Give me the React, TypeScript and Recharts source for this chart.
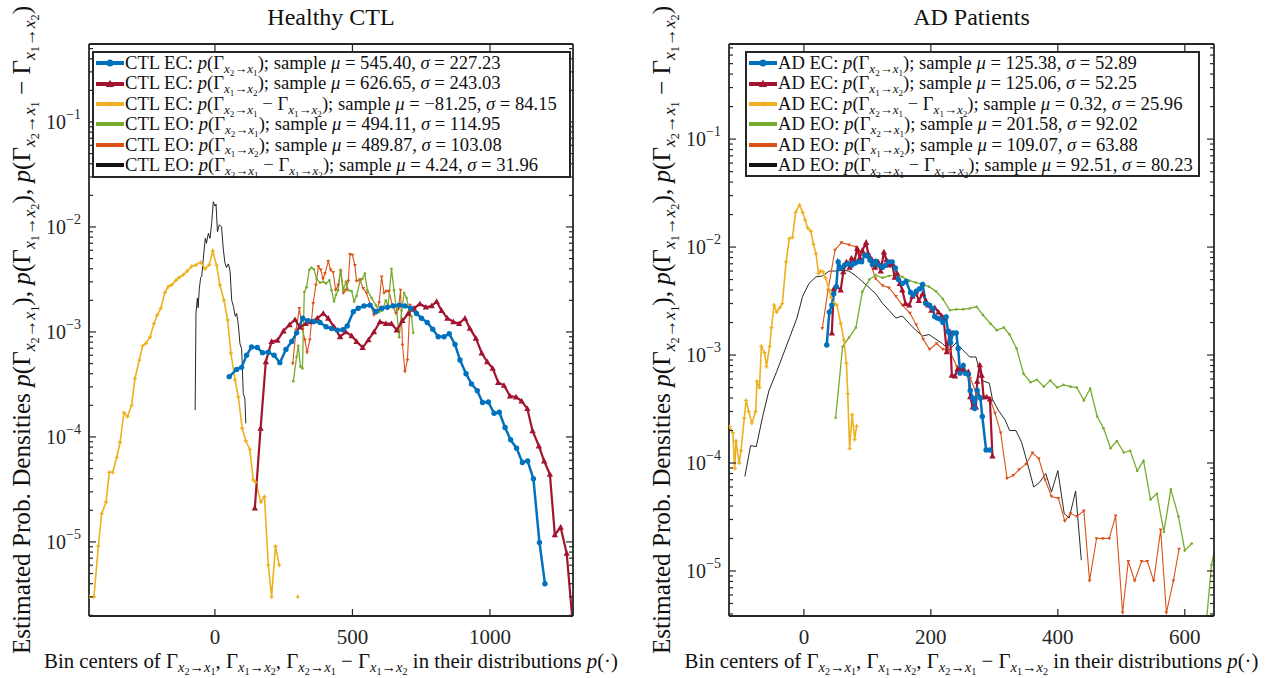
import React from 'react';
import { LineChart, Line, XAxis, YAxis } from 'recharts';

const SERIF = '"Liberation Serif", "DejaVu Serif", serif';
const AXIS = '#262626';

const BLUE = '#0072BD';
const RED = '#A2142F';
const YELLOW = '#EDB120';
const GREEN = '#77AC30';
const ORANGE = '#D95319';
const BLACK = '#111111';

// ---------- Healthy CTL ----------
const ctlEcFwdX = [52, 79, 97, 115, 133, 154, 173, 194, 215, 236, 258, 279, 297, 319, 339, 360, 382, 404, 424, 445, 465, 481, 503, 521, 542, 564, 585, 606, 627, 648, 670, 691, 712, 733, 751, 772, 792, 812, 833, 852, 873, 891, 913, 933, 954, 973, 994, 1015, 1034, 1055, 1075, 1097, 1118, 1137, 1158, 1180, 1200];
const ctlEcFwdY = [3.75e-4, 4.4e-4, 4.6e-4, 6.0e-4, 7.2e-4, 7.1e-4, 6.35e-4, 6.4e-4, 6.0e-4, 5.1e-4, 6.8e-4, 8.1e-4, 9.8e-4, 1.35e-3, 1.28e-3, 1.26e-3, 1.23e-3, 1.12e-3, 1.08e-3, 1.04e-3, 1.05e-3, 1.14e-3, 1.56e-3, 1.68e-3, 1.77e-3, 1.8e-3, 1.56e-3, 1.68e-3, 1.72e-3, 1.77e-3, 1.8e-3, 1.77e-3, 1.68e-3, 1.5e-3, 1.35e-3, 1.23e-3, 1.06e-3, 9.0e-4, 9.0e-4, 9.6e-4, 7.6e-4, 5.4e-4, 4.0e-4, 3.2e-4, 2.75e-4, 2.13e-4, 2.15e-4, 1.68e-4, 1.72e-4, 1.23e-4, 9.4e-5, 7.8e-5, 5.7e-5, 5.9e-5, 4.0e-5, 9.9e-6, 4.0e-6];

const ctlEcBwdX = [145, 166, 185, 206, 227, 249, 271, 291, 309, 330, 352, 372, 394, 412, 433, 455, 476, 497, 515, 537, 558, 578, 600, 622, 642, 661, 682, 703, 724, 745, 767, 788, 806, 824, 845, 867, 888, 909, 927, 949, 970, 990, 1010, 1030, 1051, 1073, 1095, 1115, 1136, 1155, 1178, 1197, 1218, 1236, 1257, 1279, 1300];
const ctlEcBwdY = [2.1e-5, 1.21e-4, 5.2e-4, 8.1e-4, 8.3e-4, 1.02e-3, 1.17e-3, 1.31e-3, 1.11e-3, 1.2e-3, 1.25e-3, 1.35e-3, 1.5e-3, 1.35e-3, 1.12e-3, 9.0e-4, 1.0e-3, 9.2e-4, 8.1e-4, 7.1e-4, 8.4e-4, 1.0e-3, 1.25e-3, 1.2e-3, 1.2e-3, 1.04e-3, 1.28e-3, 1.5e-3, 1.68e-3, 1.85e-3, 1.72e-3, 1.77e-3, 1.95e-3, 1.6e-3, 1.35e-3, 1.25e-3, 1.2e-3, 1.35e-3, 1.08e-3, 8.7e-4, 6.3e-4, 5.2e-4, 4.5e-4, 3.3e-4, 3.1e-4, 2.45e-4, 2.4e-4, 2.2e-4, 1.86e-4, 1.14e-4, 8.2e-5, 5.9e-5, 4.4e-5, 1.17e-5, 1.38e-5, 7.8e-6, 1.8e-6];

const ctlEcDiffX = [-457, -440, -424, -412, -396, -384, -372, -357, -345, -331, -318, -303, -291, -275, -263, -251, -236, -222, -210, -197, -182, -170, -158, -142, -130, -115, -101, -85, -69, -52, -36, -21, -8, 6, 18, 33, 46, 58, 73, 85, 99, 112, 127, 139, 148, 167, 180, 194, 206, 220, 234, 260, 301];
const ctlEcDiffY = [3.0e-6, 3.0e-6, 9.1e-6, 1.86e-5, 2.4e-5, 4.6e-5, 4.6e-5, 6.4e-5, 8.9e-5, 1.7e-4, 1.56e-4, 2.0e-4, 3.6e-4, 5.4e-4, 7.4e-4, 7.8e-4, 8.9e-4, 1.2e-3, 1.45e-3, 1.68e-3, 2.37e-3, 2.7e-3, 2.8e-3, 3.1e-3, 3.3e-3, 3.5e-3, 3.8e-3, 4.2e-3, 4.35e-3, 4.6e-3, 4.0e-3, 4.35e-3, 5.9e-3, 4.3e-3, 2.8e-3, 2.0e-3, 1.3e-3, 6.3e-4, 3.5e-4, 2.4e-4, 1.21e-4, 9.2e-5, 7.6e-5, 3.9e-5, 3.7e-5, 2.4e-5, 2.7e-5, 6.0e-6, 3.0e-6, 9.1e-6, 6.0e-6, null, 3.0e-6];

const ctlEoFwdX = [285, 297, 303, 311, 318, 325, 333, 343, 351, 360, 370, 382, 394, 404, 416, 424, 433, 440, 448, 457, 467, 476, 485, 497, 506, 515, 527, 536, 545, 554, 570, 585, 597, 609, 621, 630, 642, 651, 661, 670, 679, 688, 697, 706, 715, 721];
const ctlEoFwdY = [3.4e-4, 5.8e-4, 7.4e-4, 4.7e-4, 4.5e-4, 2.4e-3, 2.66e-3, 3.9e-3, 4.1e-3, 3.95e-3, 3.2e-3, 2.95e-3, 3.0e-3, 2.9e-3, 3.1e-3, 2.5e-3, 1.95e-3, 2.25e-3, 2.5e-3, 3.9e-3, 2.5e-3, 3.0e-3, 2.5e-3, 2.45e-3, 1.95e-3, 2.2e-3, 3.0e-3, 3.2e-3, 3.6e-3, 2.5e-3, 2.1e-3, 1.8e-3, 1.55e-3, 1.6e-3, 2.0e-3, 1.8e-3, 4.0e-3, 2.5e-3, 1.6e-3, 8.9e-4, 1.6e-3, 2.35e-3, 2.1e-3, 1.6e-3, 1.4e-3, 9.8e-4];

const ctlEoBwdX = [283, 295, 307, 318, 327, 335, 345, 357, 367, 376, 385, 393, 400, 412, 421, 430, 439, 448, 457, 467, 476, 485, 491, 500, 509, 515, 527, 539, 551, 566, 578, 588, 597, 606, 615, 624, 633, 645, 658, 667, 675, 682, 691, 700, 709, 718];
const ctlEoBwdY = [5.0e-4, 1.04e-3, 1.68e-3, 1.06e-3, 8.4e-4, 6.35e-4, 8.4e-4, 1.87e-3, 2.8e-3, 4.2e-3, 3.9e-3, 3.2e-3, 3.6e-3, 4.7e-3, 3.9e-3, 3.7e-3, 2.5e-3, 2.8e-3, 3.8e-3, 2.35e-3, 2.5e-3, 3.05e-3, 5.5e-3, 5.4e-3, 4.3e-3, 3.05e-3, 3.15e-3, 2.6e-3, 2.35e-3, 1.8e-3, 1.45e-3, 1.55e-3, 1.9e-3, 3.35e-3, 2.35e-3, 2.45e-3, 2.45e-3, 1.8e-3, 1.5e-3, 1.65e-3, 2.5e-3, 7.5e-4, 4.2e-4, 5.4e-4, 1.8e-3, 1.6e-3];

const ctlEoDiffX = [-72, -69, -64, -61, -57, -52, -48, -40, -35, -31, -24, -18, -12, -6, 0, 4, 9, 16, 24, 30, 36, 42, 49, 55, 61, 67, 74, 79, 85, 91, 97, 103, 109, 112];
const ctlEoDiffY = [1.8e-4, 1.5e-3, 2.1e-3, 1.7e-3, 2.55e-3, 3.3e-3, 3.4e-3, 5.8e-3, 7.8e-3, 7.0e-3, 8.7e-3, 7.8e-3, 1.08e-2, 1.74e-2, 1.58e-2, 1.65e-2, 9.0e-3, 1.05e-2, 1.0e-2, 6.3e-3, 4.6e-3, 4.1e-3, 4.45e-3, 3.8e-3, 2.0e-3, 1.75e-3, 1.41e-3, 1.5e-3, 1.17e-3, 7.7e-4, 6.9e-4, 2.6e-4, 2.3e-4, 1.35e-4];

// ---------- AD patients ----------
const adEcFwdX = [36, 40, 44, 47, 51, 54, 59, 64, 70, 75, 80, 85, 91, 96, 100, 104, 108, 113, 118, 124, 129, 134, 139, 144, 149, 155, 161, 168, 172, 177, 182, 187, 192, 198, 203, 206, 210, 215, 219, 224, 227, 231, 235, 240, 243, 246, 251, 255, 259, 262, 266, 269, 273, 278, 281, 287, 293];
const adEcFwdY = [1.24e-3, 2.5e-3, 2.9e-3, 3.7e-3, 4.3e-3, 7.3e-3, 6.4e-3, 6.8e-3, 7.0e-3, 6.8e-3, 7.1e-3, 7.3e-3, 7.3e-3, 8.4e-3, 8.3e-3, 7.6e-3, 6.9e-3, 7.4e-3, 6.8e-3, 6.5e-3, 6.8e-3, 7.3e-3, 7.3e-3, 6.4e-3, 5.0e-3, 4.6e-3, 4.8e-3, 3.8e-3, 3.6e-3, 3.9e-3, 4.1e-3, 4.5e-3, 3.0e-3, 2.9e-3, 2.7e-3, 2.27e-3, 2.2e-3, 2.15e-3, 2.0e-3, 2.25e-3, 1.65e-3, 1.3e-3, 1.6e-3, 1.6e-3, 1.15e-3, 6.8e-4, 8.0e-4, 6.8e-4, 6.6e-4, 4.7e-4, 4.0e-4, 3.2e-4, 4.7e-4, 4.0e-4, 2.7e-4, 1.32e-4, 1.32e-4];

const adEcBwdX = [44, 47, 52, 58, 62, 67, 72, 75, 80, 84, 88, 92, 98, 101, 107, 112, 117, 121, 126, 130, 134, 139, 143, 147, 151, 155, 160, 166, 171, 176, 181, 187, 192, 196, 201, 206, 212, 217, 220, 225, 230, 233, 238, 242, 246, 251, 256, 259, 262, 266, 271, 273, 277, 280, 283, 288, 293, 297];
const adEcBwdY = [1.6e-3, 4.1e-3, 4.3e-3, 4.0e-3, 5.9e-3, 7.3e-3, 6.5e-3, 7.9e-3, 7.6e-3, 9.7e-3, 8.0e-3, 9.3e-3, 1.1e-2, 8.8e-3, 7.7e-3, 6.5e-3, 7.3e-3, 6.0e-3, 9.0e-3, 7.6e-3, 6.8e-3, 7.0e-3, 5.25e-3, 5.7e-3, 4.6e-3, 4.0e-3, 3.0e-3, 2.9e-3, 3.5e-3, 3.85e-3, 3.2e-3, 3.7e-3, 3.2e-3, 2.9e-3, 2.6e-3, 2.75e-3, 2.5e-3, 2.3e-3, 2.2e-3, 1.07e-3, 1.65e-3, 6.5e-4, 6.4e-4, 7.4e-4, 7.3e-4, 7.3e-4, 6.8e-4, 7.0e-4, 4.1e-4, 3.3e-4, 3.3e-4, 5.7e-4, 8.1e-4, 6.5e-4, 4.1e-4, 4.1e-4, 3.9e-4, 1.16e-4];

const adEcDiffX = [-117, -112, -109, -107, -102, -99, -94, -91, -87, -82, -76, -74, -70, -67, -62, -59, -54, -51, -47, -43, -38, -34, -28, -23, -18, -13, -7, -2, 2, 6, 11, 15, 19, 23, 26, 30, 34, 40, 43, 47, 52, 58, 63, 67, 69, 72, 76, 80, 83];
const adEcDiffY = [2.17e-4, 1.9e-4, 8.9e-5, 1.6e-4, 1.0e-4, 1.3e-4, 2.6e-4, 3.8e-4, 3.0e-4, 2.35e-4, 3.0e-4, 5.7e-4, 5.0e-4, 1.2e-3, 1.05e-3, 7.8e-4, 1.2e-3, 1.8e-3, 2.9e-3, 2.5e-3, 2.75e-3, 3.0e-3, 7.3e-3, 1.2e-2, 1.23e-2, 2.1e-2, 2.45e-2, 2.1e-2, 1.78e-2, 1.5e-2, 1.4e-2, 1.06e-2, 8.7e-3, 5.7e-3, 6.0e-3, 5.9e-3, 5.2e-3, 4.0e-3, 3.4e-3, 3.05e-3, 2.9e-3, 1.96e-3, 1.38e-3, 8.4e-4, 4.4e-4, 1.36e-4, 2.8e-4, 1.65e-4, 2.2e-4];

const adEoFwdX = [50, 61, 71, 82, 92, 103, 113, 124, 134, 145, 155, 166, 176, 187, 197, 208, 219, 230, 240, 251, 261, 272, 282, 294, 304, 315, 324, 335, 346, 357, 367, 378, 388, 399, 409, 420, 430, 441, 451, 462, 472, 483, 493, 504, 514, 525, 535, 546, 556, 567, 578, 590, 600, 611, 621, 632, 642, 652];
const adEoFwdY = [2.63e-4, 1.2e-3, 1.45e-3, 1.8e-3, 3.85e-3, 5.0e-3, 5.5e-3, 5.2e-3, 5.4e-3, 5.5e-3, 5.3e-3, 4.9e-3, 4.7e-3, 4.5e-3, 4.3e-3, 3.9e-3, 3.3e-3, 2.6e-3, 2.65e-3, 2.65e-3, 2.7e-3, 2.8e-3, 2.35e-3, 1.95e-3, 1.7e-3, 1.8e-3, 1.55e-3, 1.15e-3, 6.7e-4, 5.6e-4, 5.9e-4, 5.1e-4, 5.8e-4, 5.0e-4, 5.3e-4, 5.1e-4, 5.0e-4, 3.8e-4, 4.9e-4, 2.7e-4, 2.1e-4, 1.37e-4, 1.6e-4, 1.25e-4, 1.3e-4, 8.5e-5, 1.05e-4, 4.6e-5, 5.2e-5, 2.3e-5, 5.7e-5, 3.2e-5, 1.55e-5, 1.8e-5, null, 2.5e-6, 1.14e-5, 2.2e-5];

const adEoBwdX = [29, 38, 49, 59, 71, 82, 92, 103, 113, 124, 134, 145, 155, 167, 177, 188, 198, 209, 219, 230, 241, 252, 262, 272, 283, 293, 301, 310, 320, 330, 339, 350, 360, 370, 380, 390, 401, 411, 420, 430, 441, 450, 461, 471, 481, 491, 502, 511, 521, 532, 541, 551, 562, 571, 582, 591];
const adEoBwdY = [1.77e-3, 4.0e-3, 9.4e-3, 1.1e-2, 1.05e-2, 1.0e-2, 8.6e-3, 7.6e-3, 5.1e-3, 4.4e-3, 4.2e-3, 3.5e-3, 2.9e-3, 2.45e-3, 1.9e-3, 1.4e-3, 1.13e-3, 1.28e-3, 1.13e-3, 1.08e-3, 7.8e-4, 6.9e-4, 6.1e-4, 4.4e-4, 4.0e-4, 4.0e-4, 2.9e-4, 1.9e-4, 7.2e-5, 7.7e-5, 8.7e-5, 9.8e-5, 1.24e-4, 1.1e-4, 7.0e-5, 4.9e-5, 4.7e-5, 2.9e-5, 3.4e-5, 3.2e-5, 3.6e-5, 8.1e-6, 2.0e-5, 2.0e-5, 2.0e-5, 3.25e-5, 4.1e-6, 1.23e-5, 8.1e-6, 1.23e-5, 1.23e-5, 8.1e-6, 2.4e-5, 4.1e-6, 8.1e-6, 1.6e-5];

const adEoDiffX = [-93, -84, -75, -65, -55, -43, -33, -22, -11, -2, 8, 19, 29, 40, 50, 61, 71, 82, 92, 103, 113, 124, 134, 145, 155, 166, 176, 187, 197, 208, 218, 229, 240, 250, 261, 271, 281, 292, 297, 306, 317, 324, 334, 343, 352, 362, 371, 381, 390, 400, 410, 418, 428, 437];
const adEoDiffY = [7.5e-5, 1.45e-4, 1.42e-4, 2.7e-4, 4.7e-4, 7.0e-4, 1.0e-3, 1.48e-3, 2.2e-3, 3.5e-3, 4.6e-3, 5.3e-3, 5.4e-3, 6.0e-3, 6.0e-3, 6.1e-3, 6.0e-3, 5.4e-3, 4.8e-3, 4.2e-3, 3.7e-3, 3.0e-3, 2.6e-3, 2.2e-3, 2.3e-3, 1.96e-3, 1.7e-3, 1.5e-3, 1.55e-3, 1.4e-3, 1.28e-3, 1.12e-3, 1.3e-3, 1.12e-3, 9.6e-4, 9.6e-4, 5.8e-4, 5.5e-4, 3.9e-4, 3.1e-4, 2.5e-4, 2.0e-4, 2.0e-4, 1.55e-4, 1.0e-4, 6.0e-5, 6.6e-5, 8.0e-5, 5.4e-5, 8.5e-5, 3.4e-5, 3.1e-5, 5.5e-5, 1.26e-5];

// legend statistics
const seriesTags = ['EC', 'EC', 'EC', 'EO', 'EO', 'EO'];
const seriesKinds = ['fwd', 'bwd', 'diff', 'fwd', 'bwd', 'diff'];
const ctlMu = ['545.40', '626.65', '−81.25', '494.11', '489.87', '4.24'];
const ctlSigma = ['227.23', '243.03', '84.15', '114.95', '103.08', '31.96'];
const adMu = ['125.38', '125.06', '0.32', '201.58', '109.07', '92.51'];
const adSigma = ['52.89', '52.25', '25.96', '92.02', '63.88', '80.23'];

const ctlXTicks = [0, 500, 1000];
const adXTicks = [0, 200, 400, 600];

const STYLES = [
  { color: BLUE, width: 2.5, marker: 'circle' },
  { color: RED, width: 2.2, marker: 'triangle' },
  { color: YELLOW, width: 1.6, marker: 'plus' },
  { color: GREEN, width: 1.3, marker: 'dot' },
  { color: ORANGE, width: 1.1, marker: 'tri' },
  { color: BLACK, width: 0.9, marker: 'none' },
];

// drawing order: thin lines underneath, thick EC lines on top
const DRAW_ORDER = [5, 4, 3, 2, 1, 0];

const pairs = (xs: number[], ys: (number | null)[]) => xs.map((x, i) => ({ x, y: ys[i] }));

const ctlSeries = [
  pairs(ctlEcFwdX, ctlEcFwdY),
  pairs(ctlEcBwdX, ctlEcBwdY),
  pairs(ctlEcDiffX, ctlEcDiffY),
  pairs(ctlEoFwdX, ctlEoFwdY),
  pairs(ctlEoBwdX, ctlEoBwdY),
  pairs(ctlEoDiffX, ctlEoDiffY),
];
const adSeries = [
  pairs(adEcFwdX, adEcFwdY),
  pairs(adEcBwdX, adEcBwdY),
  pairs(adEcDiffX, adEcDiffY),
  pairs(adEoFwdX, adEoFwdY),
  pairs(adEoBwdX, adEoBwdY),
  pairs(adEoDiffX, adEoDiffY),
];

function logTicks(lo: number, hi: number) {
  const out: number[] = [];
  for (let e = -7; e <= 1; e++) {
    for (let m = 1; m <= 9; m++) {
      const v = m * Math.pow(10, e);
      if (v >= lo && v <= hi) out.push(v);
    }
  }
  return out;
}

function Marker({ kind, x, y, color, s = 1 }: any) {
  switch (kind) {
    case 'circle':
      return <circle cx={x} cy={y} r={2.7 * s} fill={color} />;
    case 'triangle': {
      const r = 3.2 * s;
      return <path d={`M${x},${y - r}L${x + r},${y + r * 0.75}L${x - r},${y + r * 0.75}Z`} fill={color} />;
    }
    case 'plus':
      return <path d={`M${x - 2 * s},${y}H${x + 2 * s}M${x},${y - 2 * s}V${y + 2 * s}`} stroke={color} strokeWidth={1.3} />;
    case 'dot':
      return <circle cx={x} cy={y} r={1.3 * s} fill={color} />;
    case 'tri': {
      const r = 1.9 * s;
      return <path d={`M${x},${y + r}L${x + r},${y - r * 0.7}L${x - r},${y - r * 0.7}Z`} fill={color} />;
    }
    default:
      return null;
  }
}

const dotFor = (kind: string, color: string) =>
  kind === 'none'
    ? false
    : (p: any) => {
        const k = `d${p.index}`;
        if (p.value == null || !Number.isFinite(p.cx) || !Number.isFinite(p.cy)) return <g key={k} />;
        return (
          <g key={k}>
            <Marker kind={kind} x={p.cx} y={p.cy} color={color} />
          </g>
        );
      };

function YTick(props: any) {
  const { x, y, payload, side } = props;
  const v = payload.value;
  const e = Math.floor(Math.log10(v) + 1e-9);
  const major = Math.round(v / Math.pow(10, e)) === 1;
  const len = major ? 7 : 4;
  const dir = side === 'left' ? 1 : -1;
  return (
    <g>
      <line x1={x} y1={y} x2={x + dir * len} y2={y} stroke={AXIS} strokeWidth={1.2} />
      {side === 'left' && major && (
        <text x={x - 8} y={y + 7} textAnchor="end" fontFamily={SERIF} fontSize={20} fill={AXIS}>
          10<tspan dy={-10} fontSize={14}>{'−' + -e}</tspan>
        </text>
      )}
    </g>
  );
}

function XTick(props: any) {
  const { x, y, payload, side } = props;
  const dir = side === 'bottom' ? -1 : 1;
  return (
    <g>
      <line x1={x} y1={y} x2={x} y2={y + dir * 7} stroke={AXIS} strokeWidth={1.2} />
      {side === 'bottom' && (
        <text x={x} y={y + 28} textAnchor="middle" fontFamily={SERIF} fontSize={21} fill={AXIS}>
          {payload.value}
        </text>
      )}
    </g>
  );
}

const subStyle: React.CSSProperties = { fontSize: '0.7em', verticalAlign: '-0.3em', lineHeight: 0 };
const Sub = ({ children }: any) => <span style={subStyle}>{children}</span>;
const Gam = ({ a, b }: { a: string; b: string }) => (
  <>
    Γ
    <Sub>
      <i>x</i>
      <Sub>{a}</Sub>→<i>x</i>
      <Sub>{b}</Sub>
    </Sub>
  </>
);
const Fwd = () => <Gam a="2" b="1" />;
const Bwd = () => <Gam a="1" b="2" />;
const Diff = () => (
  <>
    <Fwd /> − <Bwd />
  </>
);
const KIND_TEXT: Record<string, () => React.ReactElement> = { fwd: Fwd, bwd: Bwd, diff: Diff };

function LegendBox({ box, group, mu, sigma }: any) {
  return (
    <div
      style={{
        position: 'absolute',
        left: box.left,
        top: box.top,
        width: box.width,
        height: box.height,
        border: `2px solid ${AXIS}`,
        background: '#fff',
        boxSizing: 'border-box',
        fontFamily: SERIF,
        fontSize: 18.6,
        color: '#111',
      }}
    >
      {STYLES.map((st, i) => {
        const Txt = KIND_TEXT[seriesKinds[i]];
        return (
          <div key={i} style={{ height: 20.4, lineHeight: '20.4px', whiteSpace: 'nowrap', display: 'flex', alignItems: 'center' }}>
            <svg width={30} height={12} style={{ flex: 'none', marginLeft: 1 }}>
              <line x1={1} y1={6} x2={29} y2={6} stroke={st.color} strokeWidth={4} />
              <Marker kind={st.marker} x={15} y={6} color={st.color} s={1.3} />
            </svg>
            <span>
              {group} {seriesTags[i]}: <i>p</i>(<Txt />); sample <i>μ</i> = {mu[i]}, <i>σ</i> = {sigma[i]}
            </span>
          </div>
        );
      })}
    </div>
  );
}

const PLOT_TOP = 44;
const PLOT_BOTTOM = 616;

function Panel({ cfg }: any) {
  const yt = logTicks(cfg.yDomain[0], cfg.yDomain[1]);
  const plotLeft = 89;
  const plotRight = cfg.width - cfg.marginRight - 10;
  const cx = (plotLeft + plotRight) / 2;
  return (
    <div style={{ position: 'absolute', left: cfg.offset, top: 0, width: cfg.width, height: 678 }}>
      <LineChart
        width={cfg.width}
        height={678}
        margin={{ top: PLOT_TOP - 10, right: cfg.marginRight, bottom: 678 - PLOT_BOTTOM - 30, left: 0 }}
      >
        <XAxis
          xAxisId="b"
          type="number"
          dataKey="x"
          domain={cfg.xDomain}
          allowDataOverflow
          ticks={cfg.xTicks}
          interval={0}
          tickSize={0}
          tickMargin={0}
          tickLine={false}
          height={30}
          axisLine={{ stroke: AXIS, strokeWidth: 1.8 }}
          tick={<XTick side="bottom" />}
        />
        <XAxis
          xAxisId="t"
          orientation="top"
          type="number"
          dataKey="x"
          domain={cfg.xDomain}
          allowDataOverflow
          ticks={cfg.xTicks}
          interval={0}
          tickSize={0}
          tickMargin={0}
          tickLine={false}
          height={10}
          axisLine={{ stroke: AXIS, strokeWidth: 1.8 }}
          tick={<XTick side="top" />}
        />
        <YAxis
          yAxisId="l"
          type="number"
          scale="log"
          domain={cfg.yDomain}
          allowDataOverflow
          ticks={yt}
          interval={0}
          tickSize={0}
          tickMargin={0}
          tickLine={false}
          width={89}
          axisLine={{ stroke: AXIS, strokeWidth: 1.8 }}
          tick={<YTick side="left" />}
        />
        <YAxis
          yAxisId="r"
          orientation="right"
          type="number"
          scale="log"
          domain={cfg.yDomain}
          allowDataOverflow
          ticks={yt}
          interval={0}
          tickSize={0}
          tickMargin={0}
          tickLine={false}
          width={10}
          axisLine={{ stroke: AXIS, strokeWidth: 1.8 }}
          tick={<YTick side="right" />}
        />
        {DRAW_ORDER.map((i) => (
          <Line
            key={i}
            xAxisId="b"
            yAxisId="l"
            data={cfg.series[i]}
            dataKey="y"
            type="linear"
            stroke={STYLES[i].color}
            strokeWidth={STYLES[i].width}
            dot={dotFor(STYLES[i].marker, STYLES[i].color)}
            activeDot={false}
            isAnimationActive={false}
          />
        ))}
      </LineChart>

      <div
        style={{
          position: 'absolute',
          left: cx - 300,
          width: 600,
          top: 4,
          textAlign: 'center',
          fontFamily: SERIF,
          fontSize: 24,
          whiteSpace: 'nowrap',
          color: '#111',
        }}
      >
        {cfg.title}
      </div>

      <div
        style={{
          position: 'absolute',
          left: cx - 400,
          width: 800,
          top: 650,
          textAlign: 'center',
          fontFamily: SERIF,
          fontSize: 20.8,
          whiteSpace: 'nowrap',
          color: '#111',
          lineHeight: '22px',
        }}
      >
        Bin centers of <Fwd />, <Bwd />, <Diff /> in their distributions <i>p</i>(·)
      </div>

      <div
        style={{
          position: 'absolute',
          left: 22 - 450,
          top: 330 - 13,
          width: 900,
          height: 26,
          textAlign: 'center',
          transform: 'rotate(-90deg)',
          fontFamily: SERIF,
          fontSize: 25.2,
          whiteSpace: 'nowrap',
          color: '#111',
          lineHeight: '26px',
        }}
      >
        Estimated Prob. Densities <i>p</i>(<Fwd />), <i>p</i>(<Bwd />), <i>p</i>(<Diff />)
      </div>

      <LegendBox box={cfg.legend} group={cfg.group} mu={cfg.mu} sigma={cfg.sigma} />
    </div>
  );
}

const PANELS = [
  {
    offset: 0,
    width: 640,
    marginRight: 57,
    xDomain: [-458, 1302],
    yDomain: [1.97e-6, 0.553],
    xTicks: ctlXTicks,
    title: 'Healthy CTL',
    group: 'CTL',
    mu: ctlMu,
    sigma: ctlSigma,
    series: ctlSeries,
    legend: { left: 92, top: 51, width: 479, height: 127 },
  },
  {
    offset: 640,
    width: 629,
    marginRight: 45,
    xDomain: [-118, 646],
    yDomain: [3.83e-6, 0.76],
    xTicks: adXTicks,
    title: 'AD Patients',
    group: 'AD',
    mu: adMu,
    sigma: adSigma,
    series: adSeries,
    legend: { left: 105, top: 51, width: 455, height: 126 },
  },
];

export default function App() {
  return (
    <div style={{ position: 'absolute', left: 0, top: 0, width: 1269, height: 678, background: '#fff', overflow: 'hidden' }}>
      {PANELS.map((p) => (
        <Panel key={p.group} cfg={p} />
      ))}
    </div>
  );
}
